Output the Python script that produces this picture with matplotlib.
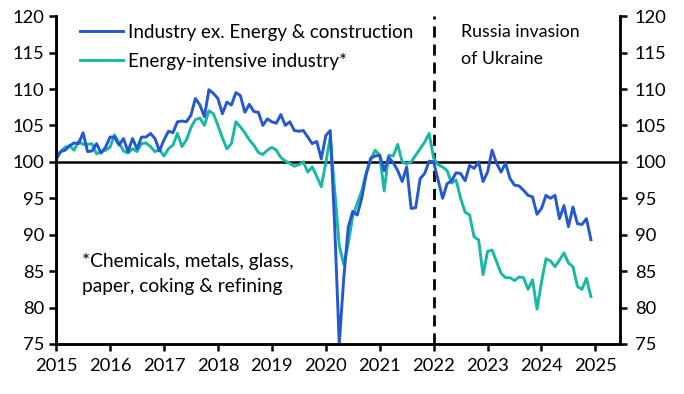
import numpy as np
import matplotlib
matplotlib.use("Agg")
import matplotlib.pyplot as plt

plt.rcParams["font.family"] = ["Lato", "DejaVu Sans"]

# monthly index, Jan 2015 - Dec 2024
start_year = 2015
industry = [
    100.3, 101.4, 101.6, 102.2, 102.6, 102.5, 104.0, 101.4, 101.5, 102.5, 101.2, 102.0,
    103.4, 103.4, 102.3, 103.2, 101.4, 103.2, 101.8, 103.4, 103.4, 103.9, 103.2, 101.5,
    103.0, 104.2, 104.0, 105.5, 105.6, 105.5, 106.4, 108.7, 107.8, 106.2, 109.9, 109.4,
    108.7, 106.6, 108.2, 107.8, 109.5, 109.1, 106.8, 107.9, 106.9, 106.8, 105.0, 105.9,
    105.5, 105.3, 106.5, 105.0, 105.5, 104.3, 104.2, 104.3, 103.4, 102.5, 102.8, 100.4,
    103.6, 104.3, 91.0, 75.0, 84.0, 91.0, 93.2, 92.7, 95.0, 98.3, 100.5, 100.8,
    100.9, 98.8, 100.6, 99.9, 98.8, 97.3, 99.3, 93.6, 93.7, 97.7, 98.4, 100.1,
    100.0, 97.5, 95.0, 97.0, 97.4, 98.5, 98.4, 97.4, 99.5, 99.1, 100.0, 97.3,
    98.6, 101.6, 99.8, 98.6, 99.8, 97.7, 96.8, 96.7, 96.1, 95.4, 95.2, 92.8,
    93.6, 95.4, 95.0, 95.4, 92.2, 94.0, 91.1, 93.8, 91.5, 91.4, 92.2, 89.3,
]
energy_intensive = [
    100.7, 101.4, 102.0, 102.2, 101.6, 102.8, 102.4, 102.4, 102.5, 101.1, 101.4, 101.6,
    102.0, 103.7, 102.6, 101.5, 101.2, 101.8, 101.4, 102.5, 102.6, 102.1, 101.4, 101.7,
    100.8, 101.8, 102.3, 103.9, 102.1, 103.0, 104.7, 105.8, 106.0, 105.0, 107.0, 106.6,
    105.0, 103.3, 101.8, 102.5, 105.5, 104.8, 104.0, 103.0, 102.3, 101.3, 101.0, 101.6,
    102.0, 101.6, 100.6, 100.1, 99.8, 99.4, 99.6, 100.0, 98.6, 99.3, 98.0, 96.6,
    99.8, 103.4, 96.0, 88.5, 85.9, 88.8, 92.5, 94.3, 96.0, 98.5, 100.3, 101.6,
    100.9, 96.0, 100.9, 100.8, 102.4, 100.0, 99.7, 100.0, 100.9, 101.8, 102.7, 103.9,
    100.5, 99.6, 99.3, 98.8, 97.1, 97.5, 95.0, 93.1, 92.7, 89.7, 89.3, 84.5,
    87.7, 87.9, 86.3, 84.7, 84.1, 84.1, 83.7, 84.2, 84.1, 82.5, 83.8, 79.8,
    83.5, 86.7, 86.4, 85.6, 86.5, 87.5, 86.1, 85.6, 82.9, 82.5, 84.0, 81.5,
]
labels = ["Industry ex. Energy & construction", "Energy-intensive industry*"]
year_ticks = list(range(2015, 2026))
y_ticks = [75, 80, 85, 90, 95, 100, 105, 110, 115, 120]
invasion_year = 2022

t = start_year + np.arange(len(industry)) / 12

fig = plt.figure(figsize=(6.84, 3.94), dpi=100)
ax = fig.add_axes([0.082, 0.127, 0.824, 0.832])

ax.axhline(100, color="black", lw=1.8, zorder=1)
ax.axvline(invasion_year, color="black", lw=2.0, ls=(0, (4, 2.5)), zorder=1)
ax.plot(t, industry, color="#2358d0", lw=2.1, label=labels[0], zorder=3)
ax.plot(t, energy_intensive, color="#17b8a6", lw=2.1, label=labels[1], zorder=2)

ax.set_xlim(2015, 2025.45)
ax.set_ylim(75, 120)
ax.set_xticks(year_ticks)
ax.set_yticks(y_ticks)

ax2 = ax.twinx()
ax2.set_ylim(75, 120)
ax2.set_yticks(y_ticks)

for a in (ax, ax2):
    for side in ("left", "right", "bottom"):
        a.spines[side].set_linewidth(1.8)
    a.spines["top"].set_visible(False)
    a.tick_params(direction="out", length=5, width=1.8, labelsize=13.2, colors="black")
ax.tick_params(axis="x", pad=5)
ax2.tick_params(axis="y", pad=6)

ax.legend(loc="upper left", bbox_to_anchor=(0.043, 0.976), frameon=False, fontsize=13.5,
          handlelength=2.3, handletextpad=0.25, labelspacing=0.62, borderaxespad=0,
          borderpad=0)

ax.text(2022.5, 118.9, "Russia invasion\nof Ukraine", fontsize=12.8, va="top", ha="left",
        linespacing=1.8)
ax.text(2015.48, 87.5, "*Chemicals, metals, glass,\npaper, coking & refining", fontsize=13.8,
        va="top", ha="left", linespacing=1.6)

fig.savefig("out.png", dpi=100)
